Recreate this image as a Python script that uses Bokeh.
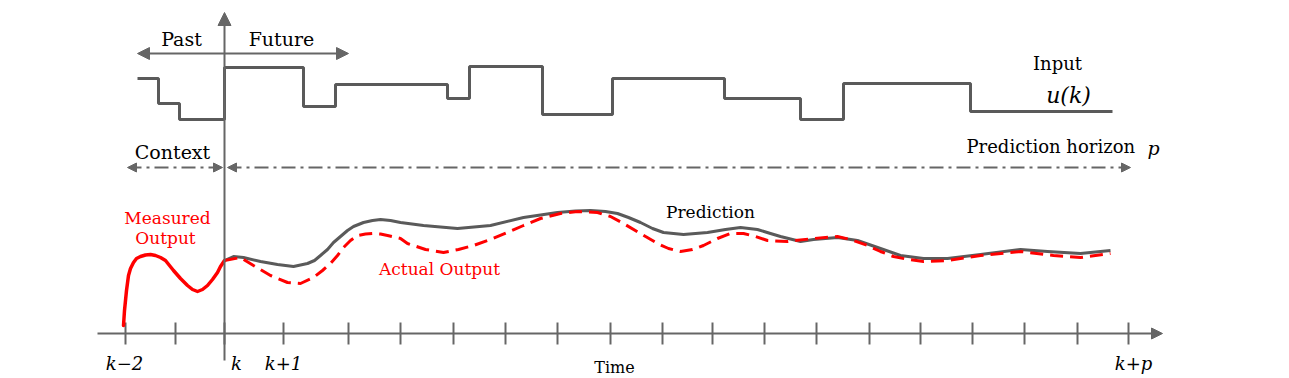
from bokeh.plotting import figure
from bokeh.models import Range1d, Arrow, NormalHead
from bokeh.core.properties import value
from bokeh.embed import file_html
from bokeh.resources import INLINE

# ---------------- data (schematic coordinates: x = time position, y = level, downwards) -------------
# input u(k): step breakpoints and levels (held until next breakpoint)
input_t = [137, 158, 179, 224, 303, 335, 447, 469, 542, 612, 724, 800, 843, 970, 1112]
input_u = [78, 103, 119, 67, 106, 84, 98, 66, 114, 78, 98, 119, 83, 111, 111]

# measured output (past, up to k)
meas_t = [123, 124, 126, 128, 130, 133, 136, 140, 145, 150, 155, 160, 165, 173, 180, 187, 192, 197,
          202, 207, 212, 217, 220, 224]
meas_y = [325, 310, 290, 275, 268, 262, 258, 256, 254.5, 254, 255, 257, 260, 270, 278, 285, 289, 291,
          289, 285, 279, 272, 266, 260]

# prediction (future)
pred_t = [224, 233, 243, 260, 277, 293, 307, 314, 320, 327, 333, 340, 347, 353, 363, 372, 380, 390,
          400, 423, 457, 490, 523, 557, 575, 590, 605, 617, 628, 640, 652, 663, 683, 707, 725, 740,
          757, 770, 780, 800, 813, 837, 857, 880, 900, 923, 947, 980, 1020, 1047, 1080, 1110]
pred_y = [260, 256, 257, 261, 264, 266, 263, 260, 255, 249, 242, 236, 230, 226, 222, 220, 219, 220,
          222, 225, 228, 225, 217, 212, 210.5, 210, 211, 213, 217, 222, 228, 232, 234, 232, 229, 227,
          229, 233, 236, 241, 239, 237, 240, 248, 255, 258, 258, 254, 249, 251, 253, 250]

# actual output (future)
act_t = [224, 240, 253, 270, 287, 300, 313, 322, 330, 337, 343, 350, 357, 365, 373, 380, 387, 400,
         407, 425, 443, 458, 473, 490, 507, 523, 540, 560, 577, 597, 610, 623, 640, 657, 668, 680,
         692, 703, 717, 730, 743, 755, 767, 787, 813, 837, 850, 867, 880, 893, 908, 923, 947, 980,
         1020, 1053, 1080, 1110]
act_y = [260, 257, 265, 275, 282, 283, 277, 270, 263, 255, 247, 240, 235, 233.5, 233, 233.5, 235, 238,
         243, 249, 252, 249, 245, 239, 232, 225, 218, 213, 211, 212, 216, 223, 233, 243, 248, 251,
         249, 245, 238, 233, 233, 236, 240, 241, 238, 236, 239, 245, 251, 256, 259, 261, 260, 255,
         251, 255, 257, 253]

# time ticks
tick_t = [125, 175, 224, 283, 348, 400, 453, 505, 557, 610, 662, 712, 764, 816, 869, 920, 972,
          1024, 1077, 1128]
tick_labels = ["k\u22122", "k", "k+1", "k+p"]
tick_label_t = [124, 236, 283, 1133]

# --------------------------------------------------------------------------------------------------
GRAY = "#5a5a5a"
AX = "#666666"
RED = "#ff0000"
FONT = value("DejaVu Serif")

p = figure(width=1289, height=378, output_backend="svg", toolbar_location=None,
           x_range=Range1d(0, 1289), y_range=Range1d(378, 0), min_border=0)
p.axis.visible = False
p.grid.visible = False
p.outline_line_color = None
p.background_fill_color = "white"

AXIS_Y = 333
K_T = 224

# axes
p.add_layout(Arrow(x_start=97, y_start=AXIS_Y, x_end=1162, y_end=AXIS_Y, line_color=AX, line_width=2,
                   end=NormalHead(size=11, fill_color=AX, line_color=AX), start=None))
p.add_layout(Arrow(x_start=K_T, y_start=360, x_end=K_T, y_end=12, line_color=AX, line_width=2,
                   end=NormalHead(size=13, fill_color=AX, line_color=AX), start=None))
p.segment(x0=tick_t, y0=[AXIS_Y - 11] * len(tick_t), x1=tick_t, y1=[AXIS_Y + 11] * len(tick_t),
          line_color=AX, line_width=2)

# past/future arrow
p.add_layout(Arrow(x_start=137, y_start=53, x_end=348, y_end=53, line_color=AX, line_width=2,
                   start=NormalHead(size=12, fill_color=AX, line_color=AX),
                   end=NormalHead(size=12, fill_color=AX, line_color=AX)))

# context / prediction horizon (dash-dot)
for xs, xe in [(127, 222), (227, 1130)]:
    p.add_layout(Arrow(x_start=xs, y_start=167, x_end=xe, y_end=167, line_color=AX, line_width=2,
                       line_dash="14 5 3 5",
                       start=NormalHead(size=9, fill_color=AX, line_color=AX),
                       end=NormalHead(size=9, fill_color=AX, line_color=AX)))

# input signal
p.step(input_t, input_u, mode="after", line_color=GRAY, line_width=3)

# outputs
p.line(pred_t, pred_y, line_color=GRAY, line_width=3, line_join="round")
p.line(act_t, act_y, line_color=RED, line_width=3, line_dash="13 7")
p.line(meas_t, meas_y, line_color=RED, line_width=3.5, line_join="round", line_cap="round")

# texts
def txt(x, y, s, size, color="black", style="normal", align="center"):
    p.text(x=[x], y=[y], text=[s], text_font=FONT, text_font_size=f"{size}px", text_color=color,
           text_font_style=style, text_align=align, text_baseline="middle")

txt(181, 38, "Past", 19)
txt(281, 38, "Future", 19)
txt(1057, 63, "Input", 18)
txt(1068, 95, "u(k)", 22, style="italic")
txt(172, 151, "Context", 19)
txt(966, 146, "Prediction horizon", 18, align="left")
txt(1147, 147, "p", 19, style="italic", align="left")
txt(167, 217, "Measured", 17, color=RED)
txt(165, 237, "Output", 17, color=RED)
txt(710, 211, "Prediction", 17)
txt(439, 268, "Actual Output", 17, color=RED)
for s, x in zip(tick_labels, tick_label_t):
    txt(x, 363, s, 18, style="italic")
txt(614, 367, "Time", 16)

open("out.html", "w").write(file_html(p, INLINE))
